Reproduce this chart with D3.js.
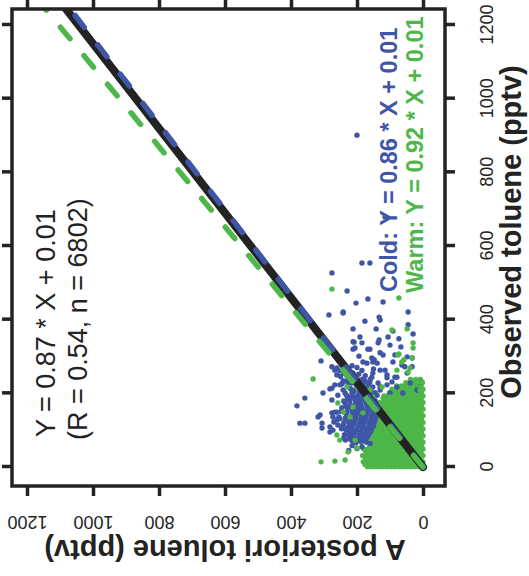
<!DOCTYPE html>
<html>
<head>
<meta charset="utf-8">
<script src="https://cdn.jsdelivr.net/npm/d3@7"></script>
<style>
  html, body { margin: 0; padding: 0; background: #fff; }
  svg { display: block; }
</style>
</head>
<body>
<svg id="chart" width="529" height="576"></svg>
<script>
// ---- data -------------------------------------------------------------
const xTicks = [0, 200, 400, 600, 800, 1000, 1200];   // observed toluene (pptv)
const yTicks = [0, 200, 400, 600, 800, 1000, 1200];   // a posteriori toluene (pptv)

// regression fits: all data, cold season, warm season
const fitNames      = ["All", "Cold", "Warm"];
const fitSlopes     = [0.87, 0.86, 0.92];
const fitIntercepts = [0.01, 0.01, 0.01];
const allR = 0.54;
const allN = 6802;

// warm-season points in the crowded low-concentration core: [observed, [a posteriori ...]]
const warmCoreRows = [
  [1,   [0,11,23,36,48,60,71,84,96,108,121,133,145,157,168]],
  [7,   [5,17,29,41,54,66,78,90,102,114,127,139,151,163,176]],
  [14,  [0,12,24,35,47,60,72,83,95,108,120,132,144,156,169,181]],
  [22,  [6,18,30,42,53,65,77,89,102,114,126,138,150,162,174]],
  [31,  [0,12,23,35,48,60,71,83,96,108,119,131,144,156,168,183]],
  [40,  [6,18,29,41,54,66,77,89,101,113,125,137,149,162,173]],
  [49,  [0,11,24,36,47,59,72,84,95,107,119,132,144,155,167,180]],
  [58,  [5,17,30,42,53,65,78,90,101,113,126,138,150,161]],
  [67,  [0,12,24,35,47,60,72,83,96,108,120,131,143,156,168,186]],
  [76,  [6,18,29,41,54,65,77,90,102,114,125,137,150,162]],
  [85,  [0,12,23,36,48,59,71,84,96,107,120,132,144,155,171]],
  [94,  [5,17,30,42,53,66,78,89,101,114,126,137,149,158]],
  [103, [0,11,24,35,47,60,72,83,95,108,119,131,143,155,166]],
  [112, [6,18,29,41,54,65,77,90,102,113,125,138,150]],
  [121, [0,12,23,36,48,59,71,84,96,107,120,132,144,158]],
  [130, [5,17,30,42,53,66,78,89,101,114,126,137,149]],
  [139, [0,11,24,35,47,60,72,83,95,108,119,131,143,152]],
  [148, [6,18,29,41,54,65,77,90,102,113,125,138]],
  [157, [0,12,23,36,48,59,71,84,96,107,120,132,144]],
  [166, [5,17,30,42,53,66,78,89,101,114,126]],
  [175, [0,11,24,35,47,60,72,83,95,108,119,131]],
  [184, [6,18,29,41,54,65,77,90,102,113]],
  [193, [0,12,23,36,48,59,71,84,96,108,118]],
  [202, [5,17,30,42,53,66,78,89,101]],
  [211, [0,12,24,35,48,60,71,84,94]],
  [220, [6,19,30,43,55,66,80]],
  [229, [2,15,27,41,52]],
  [238, [8,22,38]]
];

// cold-season points: [observed, a posteriori]
const coldPoints = [
  [901,200],[554,185],[554,161],[679,115],[527,276],[478,230],[456,167],[445,203],[448,121],
  [421,242],[421,45],[396,176],[407,133],[399,130],[386,45],[375,212],[375,142],[361,30],
  [353,191],[353,106],[345,133],[337,136],[340,212],[323,206],[348,73],[320,167],[331,100],
  [326,67],[310,130],[304,121],[301,194],[296,155],[285,152],[285,182],[282,170],[282,139],
  [299,48],[296,33],[277,64],[272,55],[272,33],[285,91],[272,276],[269,261],[269,230],
  [255,212],[244,155],[263,115],[242,109],[255,48],[244,79],[250,261],[244,221],[413,285],
  [418,242],[369,91],[339,209],[337,185],[320,212],[320,161],[291,148],[304,85],[288,309],
  [263,267],[261,252],[247,230],[234,242],[228,215],[236,191],[255,152],[263,130],[250,109],
  [244,85],[231,161],[228,136],[223,109],[231,94],[201,303],[212,282],[195,258],[209,242],
  [190,227],[204,215],[190,182],[195,139],[201,100],[209,130],[187,358],[223,267],[166,382],
  [182,276],[136,318],[141,312],[147,276],[149,261],[119,373],[119,358],[119,306],[106,306],
  [109,282],[100,273],[95,282],[128,261],[114,258],[214,276],[223,252],[228,227],[201,236],
  [214,221],[217,130],[217,79],[201,61],[228,39],[209,18],[231,9],[136,273],[149,267],
  [100,230],[81,212],[73,191],[81,170],[122,270],
  [270,200],[262,185],[255,240],[248,175],[240,205],[238,160],[258,225],[275,215],
  [280,245],[266,150],[252,195],[246,250],[233,230],[240,180],[226,245],
  // crowded cold cluster above the fit line
  [68,172],[70,188],[66,203],[72,216],[64,160],
  [82,168],[85,182],[80,196],[84,211],[86,226],[79,240],
  [97,158],[99,173],[95,189],[100,204],[96,219],[101,234],
  [112,150],[110,165],[114,181],[111,196],[115,211],[109,226],[113,243],
  [127,146],[125,160],[129,175],[126,190],[130,205],[124,221],[128,236],[131,252],
  [142,141],[140,156],[144,171],[141,186],[145,201],[139,216],[143,232],
  [157,138],[155,152],[159,167],[156,183],[160,198],[154,213],[158,229],[161,246],
  [172,143],[170,158],[174,173],[171,189],[175,204],[169,220],[173,236],
  [187,150],[185,166],[189,181],[186,197],[190,212],[184,228],
  [202,145],[200,161],[204,177],[201,193],[205,209],
  [217,152],[215,170],[219,186],[216,202],
  [232,175],[230,190],
  [75,178],[76,193],[74,208],[77,222],[73,235],
  [90,163],[91,178],[89,192],[92,207],[90,222],[88,238],
  [105,155],[104,170],[106,185],[103,200],[107,216],[105,231],[104,247],
  [120,148],[119,163],[121,178],[118,193],[122,208],[120,224],[119,240],
  [135,143],[134,158],[136,173],[133,188],[137,203],[135,219],[134,235],[136,255],
  [150,139],[149,153],[151,168],[148,183],[152,198],[150,214],[149,230],[151,248],
  [165,140],[164,155],[166,170],[163,186],[167,201],[165,216],[164,232],
  [180,145],[179,160],[181,175],[178,190],[182,206],[180,222],[179,240],
  [195,150],[194,166],[196,182],[193,198],[197,215],[195,232],
  [210,158],[209,175],[211,192],[208,210],
  [225,165],[224,182],[226,200],
  [55,185],[50,200],[58,215],[45,225]
];

// scattered warm-season points: [observed, a posteriori]
const warmPoints = [
  [483,276],[459,73],[372,94],[375,48],[337,30],[323,30],[307,73],[296,33],[291,58],[285,64],
  [263,79],[269,39],[258,45],[239,333],[304,76],[217,230],[217,200],[217,124],[190,152],
  [187,121],[190,100],[195,85],[174,258],[87,261],[14,309],[16,267],[19,236],[41,227],
  [52,200],[73,252],[231,15],[231,3],[209,9],[163,212],[149,242],[147,182],[136,221],
  [73,206],[209,161]
];

// ---- layout -----------------------------------------------------------
const W = 529, H = 576;
const colors = { cold: "#3f56a6", warm: "#4db749", ink: "#232323" };
const font = "'Liberation Sans', Arial, Helvetica, sans-serif";

const svg = d3.select("#chart");

// the panel is laid on its side: observed runs along u, a posteriori along v
const g = svg.append("g").attr("transform", `translate(0,${H}) rotate(-90)`);

const box = { u0: 90, u1: 567, v0: 12, v1: 445 };
const x = d3.scaleLinear().domain([0, 1200]).range([109, 551]);
const y = d3.scaleLinear().domain([0, 1200]).range([423, 27]);

g.append("defs").append("clipPath").attr("id", "plotClip")
  .append("rect")
  .attr("x", box.u0).attr("y", box.v0)
  .attr("width", box.u1 - box.u0).attr("height", box.v1 - box.v0);

const plot = g.append("g").attr("clip-path", "url(#plotClip)");

// points
const warmCore = warmCoreRows.flatMap(([ox, ys]) => ys.map(py => [ox, py]));
const R = 2.7;
function drawPoints(data, color) {
  plot.append("g").selectAll("circle").data(data).join("circle")
    .attr("cx", d => x(d[0])).attr("cy", d => y(d[1]))
    .attr("r", R).attr("fill", color);
}
drawPoints(warmCore, colors.warm);
drawPoints(coldPoints, colors.cold);
drawPoints(warmPoints, colors.warm);

// regression lines
const lineGen = d3.line().x(d => x(d[0])).y(d => y(d[1]));
const fitLine = i => lineGen([0, 1400].map(ox => [ox, fitSlopes[i] * ox + fitIntercepts[i]]));
plot.append("path").attr("d", fitLine(0))
  .attr("fill", "none").attr("stroke", colors.ink).attr("stroke-width", 8)
  .attr("stroke-linecap", "round");
[[1, colors.cold], [2, colors.warm]].forEach(([i, c]) => {
  plot.append("path").attr("d", fitLine(i))
    .attr("fill", "none").attr("stroke", c).attr("stroke-width", 5.5)
    .attr("stroke-linecap", "round").attr("stroke-dasharray", "15,22");
});

// frame
g.append("rect")
  .attr("x", box.u0).attr("y", box.v0)
  .attr("width", box.u1 - box.u0).attr("height", box.v1 - box.v0)
  .attr("fill", "none").attr("stroke", colors.ink).attr("stroke-width", 3.5);

// axes
function styleAxis(sel) {
  sel.select(".domain").remove();
  sel.selectAll(".tick line").attr("stroke", colors.ink).attr("stroke-width", 3.5);
  sel.selectAll("text").attr("fill", colors.ink).style("font-family", font).style("font-size", "18px");
}
const axB = g.append("g").attr("transform", `translate(0,${box.v1})`)
  .call(d3.axisBottom(x).tickValues(xTicks).tickSizeInner(10).tickSizeOuter(0).tickFormat(d3.format("d")));
styleAxis(axB);
axB.selectAll("text").attr("y", 48).attr("dy", null);

const axT = g.append("g").attr("transform", `translate(0,${box.v0})`)
  .call(d3.axisTop(x).tickValues(xTicks).tickSizeInner(10).tickSizeOuter(0).tickFormat(""));
styleAxis(axT);

const axL = g.append("g").attr("transform", `translate(${box.u0},0)`)
  .call(d3.axisLeft(y).tickValues(yTicks).tickSizeInner(10).tickSizeOuter(0).tickFormat(d3.format("d")));
styleAxis(axL);
axL.selectAll("text")
  .attr("x", null).attr("dy", null)
  .attr("text-anchor", "middle")
  .attr("transform", "translate(-29.5,0) rotate(-90)");

const axR = g.append("g").attr("transform", `translate(${box.u1},0)`)
  .call(d3.axisRight(y).tickValues(yTicks).tickSizeInner(10).tickSizeOuter(0).tickFormat(""));
styleAxis(axR);

// axis titles
g.append("text")
  .attr("x", 344).attr("y", 521)
  .attr("text-anchor", "middle")
  .style("font-family", font).style("font-size", "29px").style("font-weight", "bold")
  .attr("fill", colors.ink)
  .text("Observed toluene (pptv)");

g.append("text")
  .attr("transform", "translate(36,225) rotate(-90)")
  .attr("text-anchor", "middle")
  .style("font-family", font).style("font-size", "29px").style("font-weight", "bold")
  .attr("fill", colors.ink)
  .text("A posteriori toluene (pptv)");

// fit annotations
const eq = i => `Y = ${fitSlopes[i].toFixed(2)} * X + ${fitIntercepts[i].toFixed(2)}`;
g.append("text").attr("x", 139).attr("y", 55)
  .style("font-family", font).style("font-size", "27px").attr("fill", colors.ink)
  .text(eq(0));
g.append("text").attr("x", 136).attr("y", 87)
  .style("font-family", font).style("font-size", "27px").attr("fill", colors.ink)
  .text(`(R = ${allR.toFixed(2)}, n = ${allN})`);
g.append("text").attr("x", 284).attr("y", 397)
  .style("font-family", font).style("font-size", "23.5px").style("font-weight", "bold")
  .attr("fill", colors.cold)
  .text(`${fitNames[1]}: ${eq(1)}`);
g.append("text").attr("x", 283).attr("y", 423)
  .style("font-family", font).style("font-size", "23.5px").style("font-weight", "bold")
  .attr("fill", colors.warm)
  .text(`${fitNames[2]}: ${eq(2)}`);
</script>
</body>
</html>
